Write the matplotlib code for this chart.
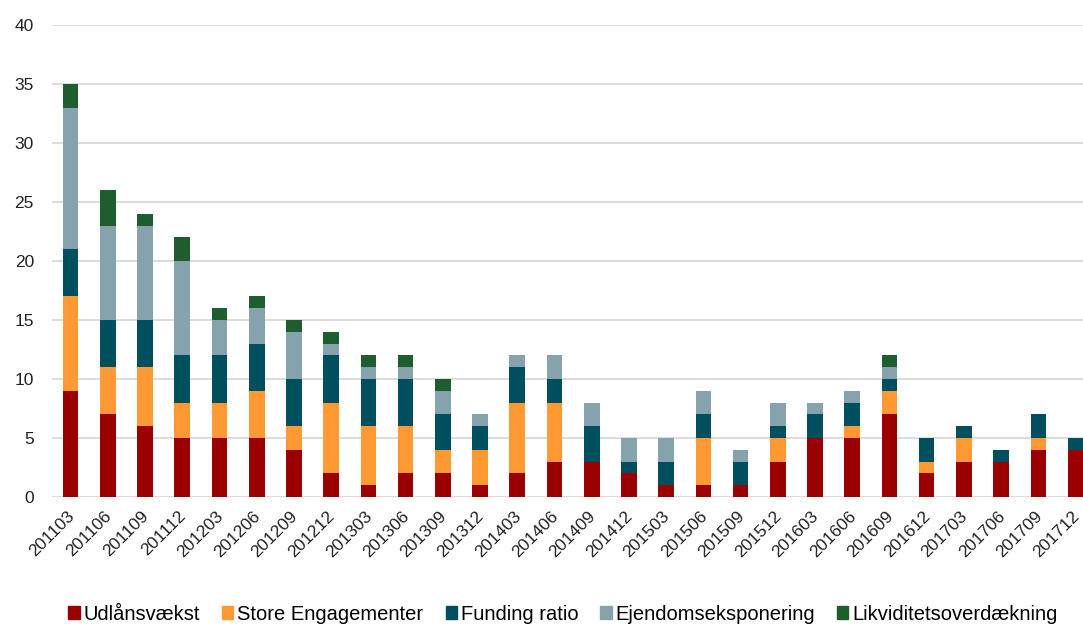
import matplotlib
matplotlib.use("Agg")
import matplotlib.pyplot as plt
import matplotlib.transforms as mtransforms
import numpy as np
from matplotlib.patches import Patch

plt.rcParams['font.family'] = ['Liberation Sans', 'DejaVu Sans']

quarters = ["201103", "201106", "201109", "201112", "201203", "201206", "201209",
            "201212", "201303", "201306", "201309", "201312", "201403", "201406",
            "201409", "201412", "201503", "201506", "201509", "201512", "201603",
            "201606", "201609", "201612", "201703", "201706", "201709", "201712"]

udlaan = [9, 7, 6, 5, 5, 5, 4, 2, 1, 2, 2, 1, 2, 3, 3, 2, 1, 1, 1, 3, 5, 5, 7, 2, 3, 3, 4, 4]
store = [8, 4, 5, 3, 3, 4, 2, 6, 5, 4, 2, 3, 6, 5, 0, 0, 0, 4, 0, 2, 0, 1, 2, 1, 2, 0, 1, 0]
funding = [4, 4, 4, 4, 4, 4, 4, 4, 4, 4, 3, 2, 3, 2, 3, 1, 2, 2, 2, 1, 2, 2, 1, 2, 1, 1, 2, 1]
ejendom = [12, 8, 8, 8, 3, 3, 4, 1, 1, 1, 2, 1, 1, 2, 2, 2, 2, 2, 1, 2, 1, 1, 1, 0, 0, 0, 0, 0]
likvid = [2, 3, 1, 2, 1, 1, 1, 1, 1, 1, 1, 0, 0, 0, 0, 0, 0, 0, 0, 0, 0, 0, 1, 0, 0, 0, 0, 0]

series_names = ["Udlånsvækst", "Store Engagementer", "Funding ratio",
                "Ejendomseksponering", "Likviditetsoverdækning"]
colors = ["#9B0000", "#FF9933", "#004F5F", "#86A2AD", "#1E5E2E"]
yticks = [0, 5, 10, 15, 20, 25, 30, 35, 40]

fig = plt.figure(figsize=(10.83, 6.28), dpi=100)
ax = fig.add_axes([52 / 1083, 1 - 497 / 628, 1 - 52 / 1083, (497 - 25) / 628])

n = len(quarters)
x = np.arange(n)
bottom = np.zeros(n)
for vals, col in zip([udlaan, store, funding, ejendom, likvid], colors):
    v = np.array(vals, dtype=float)
    ax.bar(x, v, width=0.42, bottom=bottom, color=col, zorder=3)
    bottom += v

ax.set_ylim(0, 40)
ax.set_yticks(yticks)
ax.set_xlim(-0.5, 27.2)
ax.set_xticks(x)
ax.set_xticklabels(quarters, rotation=45, ha='right', rotation_mode='anchor', fontsize=12.5)
ax.tick_params(axis='y', labelsize=12.5, length=0, pad=13, colors='#222222')
ax.tick_params(axis='x', length=0, pad=8, colors='#222222')
shift = mtransforms.ScaledTranslation(-4 / 100, 0, fig.dpi_scale_trans)
for lbl in ax.get_xticklabels():
    lbl.set_transform(lbl.get_transform() + shift)
ax.grid(axis='y', color='#D9D9D9', linewidth=1.3, zorder=0)
for s in ax.spines.values():
    s.set_visible(False)

handles = [Patch(color=c) for c in colors]
fig.legend(handles, series_names, loc='center', bbox_to_anchor=(0.52, 0.022),
           ncol=5, frameon=False, fontsize=14.5, handlelength=0.55, handleheight=0.55,
           handletextpad=0.2, columnspacing=1.1)

fig.savefig("out.png", dpi=100)
